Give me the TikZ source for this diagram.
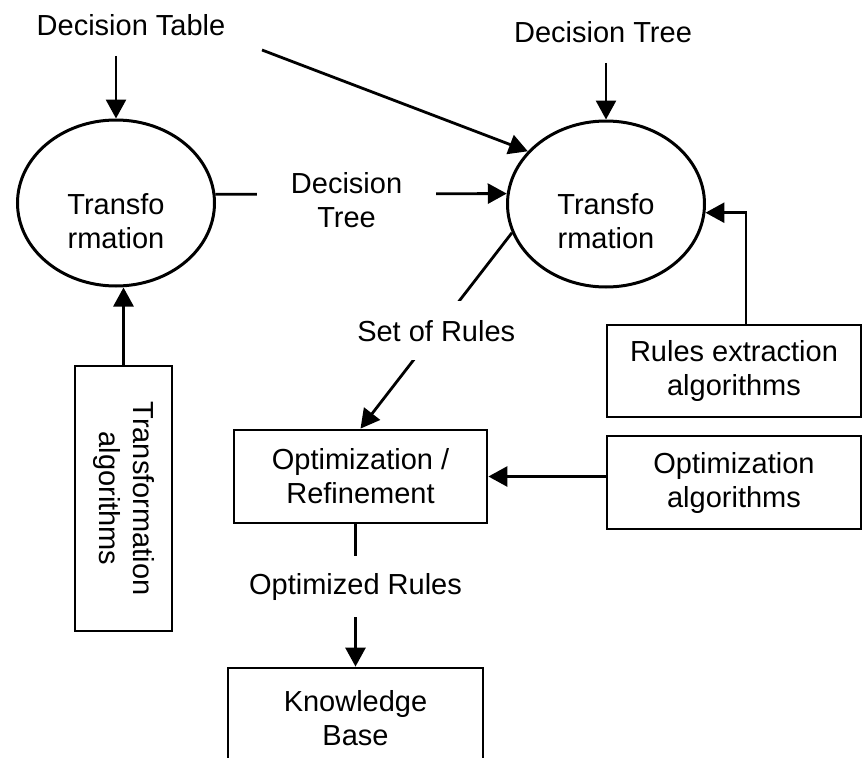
\documentclass[tikz,border=0pt]{standalone}
\usepackage{fontspec}
\setmainfont{Liberation Sans}
\usetikzlibrary{shapes.geometric, arrows.meta}

\tikzset{
	txt/.style = {font = \fontsize{29pt}{34pt}\selectfont, align = center, inner sep = 0pt},
	proc/.style = {ellipse, draw, line width = 3pt, minimum width = 197pt, minimum height = 166pt, inner sep = 0pt},
	box/.style = {txt, rectangle, draw, line width = 2.8pt},
	gap/.style = {txt, fill = white},
	flow/.style = {line width = 2.8pt, -{Triangle[length = 19pt, width = 20pt]}}
}

\begin{document}
\begin{tikzpicture}[yscale = -1, x = 1pt, y = 1pt]
	\useasboundingbox (0, 0) rectangle (863, 758);

	% Eingaben oben
	\node [txt] (dtable) at (131, 25) {Decision Table};
	\node [txt] (dtree) at (603, 32) {Decision Tree};
	\coordinate (tabout) at (262, 50);

	% Transformationen
	\node [proc] (trleft) at (116, 203) {};
	\node [txt] (trleft-txt) at (116, 221) {Transfo\\rmation};
	\node [proc] (trright) at (606, 204) {};
	\node [txt] (trright-txt) at (606, 221) {Transfo\\rmation};

	% Kaesten
	\node [box, rotate = -90, minimum width = 265pt, minimum height = 97pt] (talg) at (123.5, 498.5) {Transformation\\algorithms};
	\node [box, minimum width = 254pt, minimum height = 92pt] (rulebox) at (734, 371) {Rules extraction\\algorithms};
	\node [box, minimum width = 254pt, minimum height = 93pt] (optalg) at (734, 482.5) {Optimization\\algorithms};
	\node [box, minimum width = 253pt, minimum height = 93pt] (optbox) at (360.5, 476.5) {Optimization /\\Refinement};
	\node [box, minimum width = 255pt, minimum height = 100pt] (kbase) at (355.5, 718) {Knowledge\\Base};

	% Pfeile
	\draw [flow, shorten <= 20pt] (trleft.north |- dtable.south) -- (trleft.north);
	\draw [flow, shorten <= 20pt] (trright.north |- dtree.south) -- (trright.north);
	\draw [flow] (tabout) -- (trright.146);
	\draw [flow] (talg.west) -- (talg.west |- trleft.south);
	\draw [flow] ([xshift = 12pt]rulebox.north) |- (trright.-5);
	\draw [flow] (optalg.west |- optbox.east) -- (optbox.east);

	% Pfeile mit Beschriftung
	\draw [flow] (trleft.5) -- node [gap, pos = 0.45, inner xsep = 34pt, inner ysep = 6pt, yshift = -6pt] (dtmid) {Decision\\Tree} (trright.174);
	\draw [flow] (trright.197) -- node [gap, inner xsep = 2pt, inner ysep = 19pt] (rulesmid) {Set of Rules} (optbox.north);
	\draw [flow] (kbase.north |- optbox.south) -- node [gap, pos = 0.44, inner xsep = 2pt, inner ysep = 17pt] (optmid) {Optimized Rules} (kbase.north);
\end{tikzpicture}
\end{document}
